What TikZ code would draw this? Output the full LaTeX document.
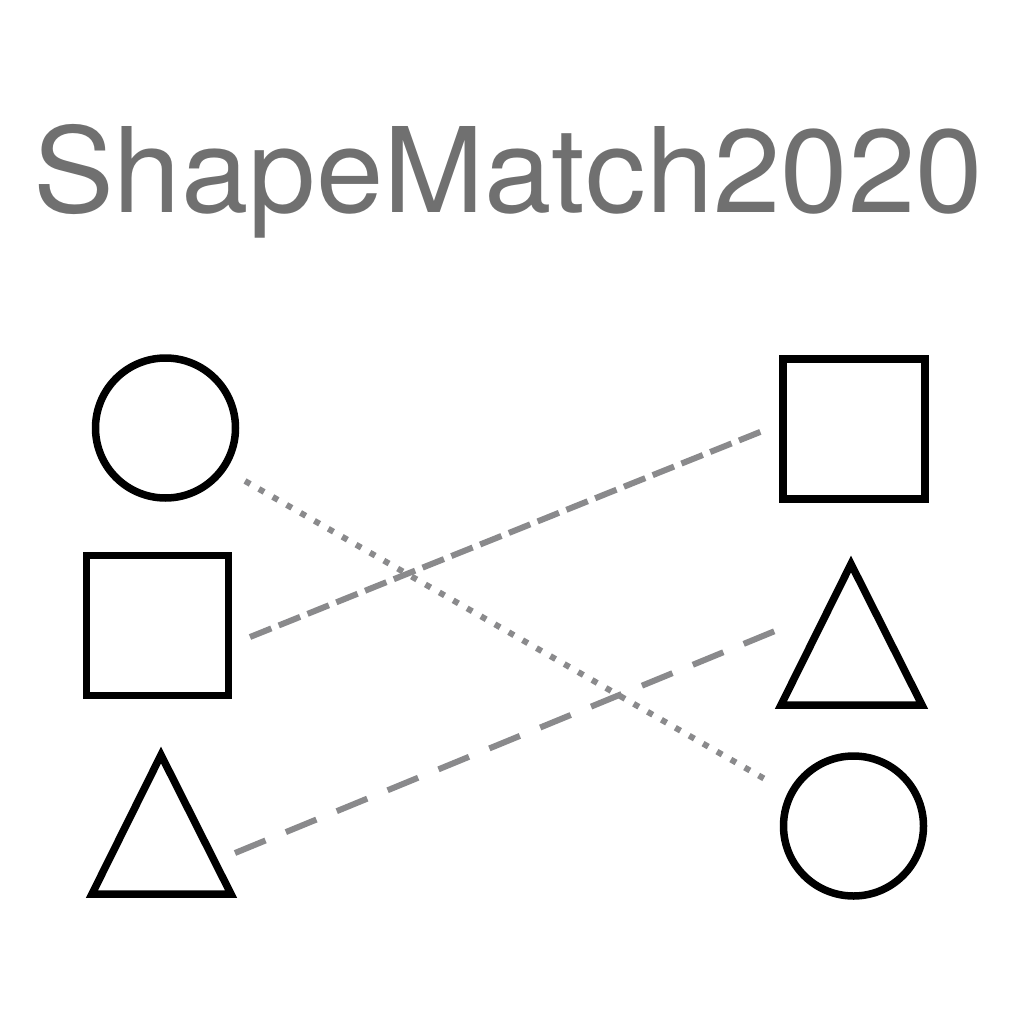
\documentclass[tikz,border=0pt]{standalone}
\usepackage{fontspec}
\setmainfont{TeX Gyre Heros}
\definecolor{titlegray}{HTML}{707070}
\definecolor{linkgray}{HTML}{8A8A8C}
\tikzset{
  shapeline/.style={draw=black, line width=7.5pt, inner sep=0pt, outer sep=0pt},
  circ/.style={shapeline, circle, minimum size=140pt},
  sq/.style={shapeline, rectangle, minimum width=142pt, minimum height=140pt},
  triline/.style={draw=black, line width=7.5pt, line join=miter},
  dotlink/.style={draw=linkgray, line width=6pt, dash pattern=on 6pt off 10pt},
  densedash/.style={draw=linkgray, line width=6pt, dash pattern=on 23pt off 8pt},
  loosedash/.style={draw=linkgray, line width=6pt, dash pattern=on 33pt off 22pt}
}
\begin{document}
\begin{tikzpicture}[x=1pt,y=-1pt]
\useasboundingbox (0,0) rectangle (1024,1024);
\node[anchor=base, inner sep=0pt, text=titlegray, xscale=1.027, font=\fontsize{118}{120}\selectfont] (title) at (508,213) {ShapeMatch2020};
% left column
\node[circ] (lcirc) at (165.5,428) {};
\node[sq] (lsq) at (157.5,625.5) {};
\coordinate (ltriA) at (161,755);
\coordinate (ltriB) at (231,894);
\coordinate (ltriC) at (92,894);
\draw[triline] (ltriA) -- (ltriB) -- (ltriC) -- cycle;
% right column
\node[sq] (rsq) at (854,429) {};
\coordinate (rtriA) at (851,564);
\coordinate (rtriB) at (922,705);
\coordinate (rtriC) at (781,705);
\draw[triline] (rtriA) -- (rtriB) -- (rtriC) -- cycle;
\node[circ] (rcirc) at (853.5,826) {};
% connector ends
\coordinate (a1) at (245,481);
\coordinate (a2) at (770,782);
\coordinate (b1) at (250,637);
\coordinate (b2) at (765,430);
\coordinate (c1) at (235,853);
\coordinate (c2) at (775,631);
\draw[dotlink] (a1) -- (a2);
\draw[densedash] (b1) -- (b2);
\draw[loosedash] (c1) -- (c2);
\end{tikzpicture}
\end{document}
